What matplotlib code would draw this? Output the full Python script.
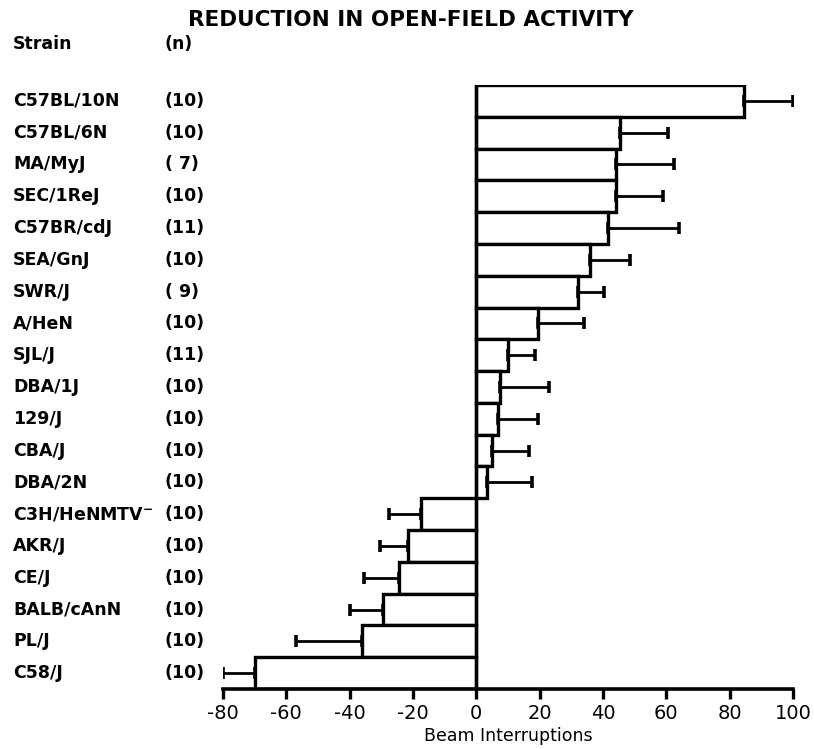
import matplotlib
matplotlib.use("Agg")
import matplotlib.pyplot as plt
import matplotlib.transforms as mtransforms

strains = ["C57BL/10N", "C57BL/6N", "MA/MyJ", "SEC/1ReJ", "C57BR/cdJ", "SEA/GnJ",
           "SWR/J", "A/HeN", "SJL/J", "DBA/1J", "129/J", "CBA/J", "DBA/2N",
           "C3H/HeNMTV$^{-}$", "AKR/J", "CE/J", "BALB/cAnN", "PL/J", "C58/J"]
n_values = ["(10)", "(10)", "( 7)", "(10)", "(11)", "(10)", "( 9)", "(10)", "(11)",
            "(10)", "(10)", "(10)", "(10)", "(10)", "(10)", "(10)", "(10)", "(10)", "(10)"]
means = [84.5, 45.5, 44.0, 44.0, 41.5, 36.0, 32.0, 19.5, 10.0, 7.5, 7.0, 5.0, 3.5,
         -17.5, -21.5, -24.5, -29.5, -36.0, -70.0]
sems = [15.5, 15.0, 18.5, 15.0, 22.5, 12.5, 8.5, 14.5, 8.5, 15.5, 12.5, 11.5, 14.0,
        10.0, 9.0, 11.0, 10.5, 21.0, 10.0]
xticks = [-80, -60, -40, -20, 0, 20, 40, 60, 80, 100]

plt.rcParams['font.family'] = ['DejaVu Sans']
plt.rcParams['mathtext.default'] = 'bf'
fig = plt.figure(figsize=(8.14, 7.49), dpi=100)
ax = fig.add_axes([0.274, 0.0801, 0.700, 0.8064])

ypos = list(range(len(strains)))
ax.barh(ypos, means, height=1.0, color="white", edgecolor="black", linewidth=2.4, zorder=2)
# one-sided error bars (away from zero)
xerr_lo = [0 if m > 0 else s for m, s in zip(means, sems)]
xerr_hi = [s if m > 0 else 0 for m, s in zip(means, sems)]
ax.errorbar(means, ypos, xerr=[xerr_lo, xerr_hi], fmt="none", ecolor="black",
            elinewidth=2.0, capsize=4, capthick=2.6, zorder=3)
ax.axvline(0, color="black", linewidth=2.4, zorder=4)

ax.set_xlim(-80, 100)
ax.set_ylim(len(strains) - 0.5, -0.5)
ax.set_xticks(xticks)
ax.set_xticklabels([str(t) for t in xticks], fontsize=14)
ax.set_yticks([])
for s in ["top", "right", "left"]:
    ax.spines[s].set_visible(False)
ax.spines["bottom"].set_linewidth(2.6)
ax.tick_params(axis="x", direction="out", length=7, width=2.4, pad=4)
ax.set_xlabel("Beam Interruptions", fontsize=12.5, labelpad=3)

trans = mtransforms.blended_transform_factory(fig.transFigure, ax.transData)
for y, s, n in zip(ypos, strains, n_values):
    ax.text(13 / 814, y, s, transform=trans, ha="left", va="center", fontsize=12.5,
            fontweight="bold", clip_on=False)
    ax.text(165 / 814, y, n, transform=trans, ha="left", va="center", fontsize=12.5,
            fontweight="bold", clip_on=False)

fig.text(13 / 814, 1 - 44 / 749, "Strain", ha="left", va="center", fontsize=12.5,
         fontweight="bold")
fig.text(165 / 814, 1 - 44 / 749, "(n)", ha="left", va="center", fontsize=12.5,
         fontweight="bold")
fig.text(411 / 814, 1 - 20 / 749, "REDUCTION IN OPEN-FIELD ACTIVITY", ha="center",
         va="center", fontsize=15.5, fontweight="bold")

fig.savefig("out.png", dpi=100, facecolor="white")
